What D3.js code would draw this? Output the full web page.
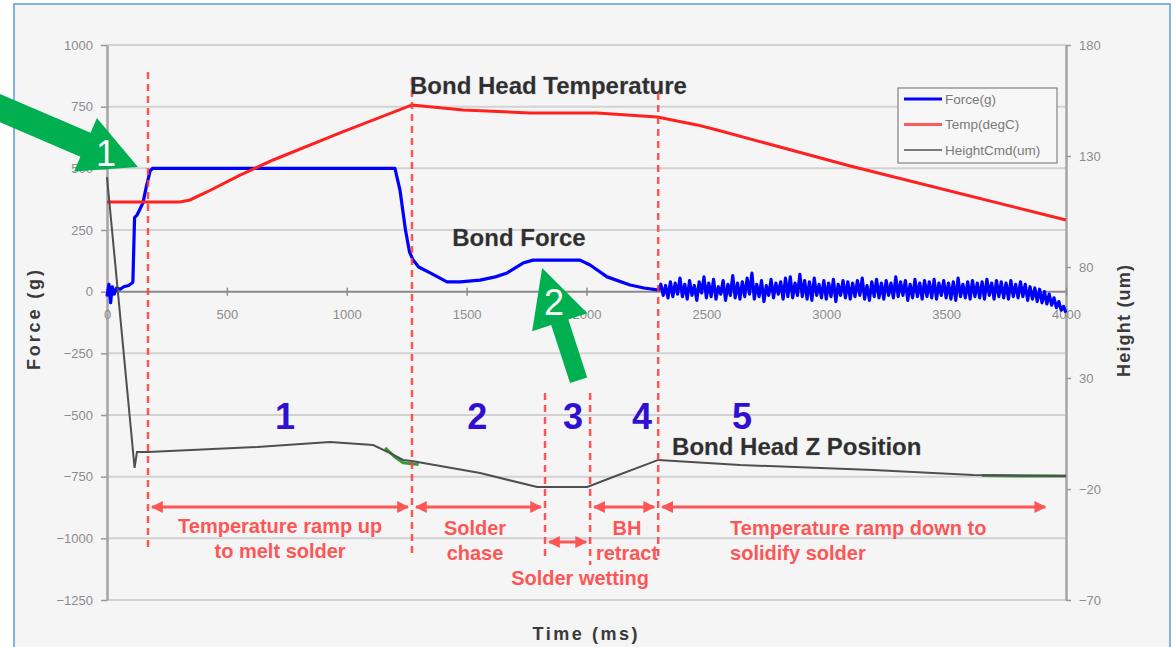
<!DOCTYPE html>
<html>
<head>
<meta charset="utf-8">
<script src="https://cdn.jsdelivr.net/npm/d3@7"></script>
<style>
  html, body { margin: 0; padding: 0; background: #fff; }
  svg { display: block; font-family: "Liberation Sans", Arial, sans-serif; }
</style>
</head>
<body>
<svg id="chart" width="1176" height="647"></svg>
<script>
// ---- data ----
const timeTicks = [0, 500, 1000, 1500, 2000, 2500, 3000, 3500, 4000];
const forceTicks = [-1250, -1000, -750, -500, -250, 0, 250, 500, 750, 1000];
const heightTicks = [-70, -20, 30, 80, 130, 180];

// bond force, smooth part (ms, g)
const forceMs = [0, 8, 15, 22, 30, 40, 55, 70, 90, 105, 108, 115, 125, 135, 150, 165, 180, 190,
  1201, 1222, 1245, 1262, 1277, 1300, 1348, 1418, 1473, 1556, 1620, 1669, 1735, 1777, 1850,
  1973, 2015, 2086, 2182, 2240, 2295];
const forceG = [-20, 30, -45, 20, -10, 15, 10, 20, 25, 35, 40, 300, 310, 330, 360, 430, 490, 500,
  500, 412, 250, 160, 128, 100, 76, 40, 40, 47, 60, 76, 116, 128, 128,
  128, 108, 60, 27, 15, 7];
// bond force, noisy tail sampled every 10 ms from 2300 ms
const forceTailStartMs = 2300;
const forceTailStepMs = 10;
const forceTailG = [
  5, 30, -15, 25, -25, 40, -20, 35, -10, 55,
  -20, 30, -30, 45, -15, 25, -35, 40, -5, 60,
  -25, 35, -20, 50, -30, 20, -10, 45, -35, 30,
  -15, 65, -25, 35, -30, 40, -20, 55, -10, 75,
  -30, 30, -20, 45, -40, 25, -15, 50, -25, 35,
  -10, 40, -30, 55, -20, 60, -25, 35, -15, 70,
  -20, 45, -30, 40, -35, 55, -15, 30, -25, 45,
  -30, 35, -20, 50, -40, 30, -15, 45, -25, 40,
  -30, 35, -20, 45, -15, 55, -30, 25, -35, 40,
  -20, 50, -25, 35, -30, 45, -15, 35, -25, 60,
  -20, 40, -15, 45, -35, 30, -25, 50, -20, 35,
  -30, 45, -20, 40, -25, 50, -30, 35, -15, 45,
  -25, 35, -30, 40, -35, 55, -20, 30, -25, 40,
  -30, 45, -20, 35, -25, 40, -30, 50, -15, 35,
  -30, 45, -20, 40, -25, 35, -30, 45, -20, 30,
  -25, 40, -20, 30, -35, 20, -30, 15, -40, 10,
  -45, 0, -50, -10, -55, -25, -65, -40, -75, -60,
  -85];

// bond head temperature (ms, degC)
const tempMs = [0, 305, 346, 417, 555, 693, 972, 1272, 1485, 1765, 2044, 2295, 2461, 2545, 3100, 4000];
const tempC = [109.3, 109.3, 110.2, 113.8, 121.4, 128.2, 140.4, 153, 150.7, 149.4, 149.4, 147.6, 144, 141.7, 125.5, 101.2];

// bond head z position (ms, um)
const heightMs = [0, 104, 115, 125, 171, 626, 930, 1110, 1181, 1235, 1272, 1556, 1794, 2003, 2111, 2278, 2299, 2641, 3196, 3613, 4000];
const heightUm = [120.5, 2.1, -10.5, -3.3, -3.3, -1.1, 1.2, -0.2, -3.8, -6.9, -7.4, -12.8, -19.1, -19.1, -14.6, -7.8, -6.9, -9.2, -11.4, -13.7, -14.1];
// short green trace showing under the z position
const heightRefMs = [[1160, 1200, 1235, 1272, 1300], [3650, 3800, 4000]];
const heightRefUm = [[-1.5, -5.5, -8.2, -8.6, -9.0], [-13.9, -14.1, -14.1]];

// process phases
const phaseMs = [171, 1272, 1827, 2015, 2299];
const phaseNumbers = ["1", "2", "3", "4", "5"];
const phaseNumberMs = [743, 1544, 1944, 2232, 2649];

const legendNames = ["Force(g)", "Temp(degC)", "HeightCmd(um)"];

// ---- layout ----
const svg = d3.select("#chart");
const x = d3.scaleLinear().domain([0, 4000]).range([107, 1066]);
const yF = d3.scaleLinear().domain([-1250, 1000]).range([600, 45]);
const yR = d3.scaleLinear().domain([-70, 180]).range([600, 45]);

const RED = "#ff3b3b";
const BLUE_NUM = "#2f10d2";
const fmt = d3.format("d");

// frame
svg.append("rect")
  .attr("x", 14).attr("y", 4).attr("width", 1156).attr("height", 670)
  .attr("fill", "#f5f5f5").attr("stroke", "#5b9bd5").attr("stroke-width", 1.5);

// gridlines
svg.append("g").selectAll("line").data(forceTicks).join("line")
  .attr("x1", x(0)).attr("x2", x(4000))
  .attr("y1", (d) => yF(d)).attr("y2", (d) => yF(d))
  .attr("stroke", (d) => (d === 0 ? "#8a8a8a" : "#d2d2d2"))
  .attr("stroke-width", 2);

function styleAxis(g) {
  g.select(".domain").attr("stroke", "#a5a5a5").attr("stroke-width", 2.5);
  g.selectAll(".tick line").attr("stroke", "#9a9a9a").attr("stroke-width", 1.5);
  g.selectAll("text").attr("fill", "#8c8c8c").style("font-size", "13px")
    .style("font-family", "'Liberation Sans', Arial, sans-serif");
}

// left axis
const gL = svg.append("g").attr("transform", `translate(${x(0)},0)`)
  .call(d3.axisLeft(yF).tickValues(forceTicks).tickFormat(fmt).tickSize(6).tickSizeOuter(0).tickPadding(8));
styleAxis(gL);

// right axis
const gR = svg.append("g").attr("transform", `translate(${x(4000)},0)`)
  .call(d3.axisRight(yR).tickValues(heightTicks).tickFormat(fmt).tickSize(5).tickSizeOuter(0).tickPadding(8));
styleAxis(gR);

// x axis on the zero line
const gX = svg.append("g").attr("transform", `translate(0,${yF(0)})`)
  .call(d3.axisBottom(x).tickValues(timeTicks).tickFormat(fmt).tickSize(4).tickSizeOuter(0).tickPadding(14));
styleAxis(gX);
gX.select(".domain").remove();
gX.selectAll(".tick line").attr("stroke", "#8a8a8a").attr("y1", -4);

// axis titles
svg.append("text")
  .attr("transform", "translate(40,320) rotate(-90)")
  .attr("text-anchor", "middle").attr("fill", "#3a3a3a")
  .attr("font-weight", "bold").attr("font-size", 18)
  .attr("textLength", 100).attr("lengthAdjust", "spacing")
  .text("Force (g)");
svg.append("text")
  .attr("transform", "translate(1130,321) rotate(-90)")
  .attr("text-anchor", "middle").attr("fill", "#3a3a3a")
  .attr("font-weight", "bold").attr("font-size", 18)
  .attr("textLength", 112).attr("lengthAdjust", "spacing")
  .text("Height (um)");
svg.append("text")
  .attr("x", 585).attr("y", 640)
  .attr("text-anchor", "middle").attr("fill", "#3a3a3a")
  .attr("font-weight", "bold").attr("font-size", 18)
  .attr("textLength", 105).attr("lengthAdjust", "spacing")
  .text("Time (ms)");

// ---- series ----
const forcePts = d3.zip(forceMs, forceG)
  .concat(forceTailG.map((v, i) => [forceTailStartMs + i * forceTailStepMs, v]));
const tempPts = d3.zip(tempMs, tempC);
const heightPts = d3.zip(heightMs, heightUm);

const lineF = d3.line().x((d) => x(d[0])).y((d) => yF(d[1]));
const lineR = d3.line().x((d) => x(d[0])).y((d) => yR(d[1]));

svg.append("path").datum(forcePts)
  .attr("fill", "none").attr("stroke", "#0000ff").attr("stroke-width", 3.2)
  .attr("stroke-linejoin", "round").attr("d", lineF);

svg.append("path").datum(tempPts)
  .attr("fill", "none").attr("stroke", "#ff2020").attr("stroke-width", 3)
  .attr("d", lineR);

heightRefMs.forEach((ms, i) => {
  svg.append("path").datum(d3.zip(ms, heightRefUm[i]))
    .attr("fill", "none").attr("stroke", "#3a9a3a").attr("stroke-width", 3)
    .attr("d", lineR);
});

svg.append("path").datum(heightPts)
  .attr("fill", "none").attr("stroke", "#4f4f4f").attr("stroke-width", 2)
  .attr("d", lineR);

// ---- phase annotations ----
const phaseSpans = [[72, 550], [78, 555], [393, 560], [393, 565], [93, 560]];
svg.append("g").selectAll("line").data(phaseMs).join("line")
  .attr("x1", (d) => x(d)).attr("x2", (d) => x(d))
  .attr("y1", (d, i) => phaseSpans[i][0]).attr("y2", (d, i) => phaseSpans[i][1])
  .attr("stroke", RED).attr("stroke-width", 2.5).attr("stroke-dasharray", "7,5")
  .attr("opacity", 0.85);

const defs = svg.append("defs");
defs.append("marker")
  .attr("id", "arr").attr("viewBox", "0 0 10 10")
  .attr("refX", 9).attr("refY", 5)
  .attr("markerWidth", 4).attr("markerHeight", 4)
  .attr("orient", "auto-start-reverse")
  .append("path").attr("d", "M0,0 L10,5 L0,10 z").attr("fill", RED);

const rangeArrows = [
  [phaseMs[0], phaseMs[1], 507],
  [phaseMs[1], phaseMs[2], 507],
  [phaseMs[3], phaseMs[4], 507],
  [phaseMs[4], 3930, 507],
  [phaseMs[2], phaseMs[3], 542]
];
svg.append("g").selectAll("line").data(rangeArrows).join("line")
  .attr("x1", (d) => x(d[0]) + 4).attr("x2", (d) => x(d[1]) - 4)
  .attr("y1", (d) => d[2]).attr("y2", (d) => d[2])
  .attr("stroke", RED).attr("stroke-width", 3).attr("opacity", 0.85)
  .attr("marker-start", "url(#arr)").attr("marker-end", "url(#arr)");

const redNotes = [
  { ms: 722, lines: ["Temperature ramp up", "to melt solder"], anchor: "middle", y: 533 },
  { ms: 1535, lines: ["Solder", "chase"], anchor: "middle", y: 535 },
  { ms: 2169, lines: ["BH", "retract"], anchor: "middle", y: 535 },
  { ms: 1973, lines: ["Solder wetting"], anchor: "middle", y: 585 },
  { ms: 2599, lines: ["Temperature ramp down to", "solidify solder"], anchor: "start", y: 535 }
];
redNotes.forEach((n) => {
  const t = svg.append("text")
    .attr("x", x(n.ms)).attr("y", n.y)
    .attr("text-anchor", n.anchor).attr("fill", RED).attr("opacity", 0.85)
    .attr("font-weight", "bold").attr("font-size", 20);
  n.lines.forEach((s, i) => {
    t.append("tspan").attr("x", x(n.ms)).attr("dy", i === 0 ? 0 : 25).text(s);
  });
});

svg.append("g").selectAll("text").data(phaseNumbers).join("text")
  .attr("x", (d, i) => x(phaseNumberMs[i])).attr("y", 429)
  .attr("text-anchor", "middle").attr("fill", BLUE_NUM)
  .attr("font-weight", "bold").attr("font-size", 36)
  .text((d) => d);

// series titles
const titles = [
  { text: "Bond Head Temperature", ms: 1264, y: 94 },
  { text: "Bond Force", ms: 1440, y: 246 },
  { text: "Bond Head Z Position", ms: 2357, y: 455 }
];
svg.append("g").selectAll("text").data(titles).join("text")
  .attr("x", (d) => x(d.ms)).attr("y", (d) => d.y)
  .attr("fill", "#2e2e2e").attr("font-weight", "bold").attr("font-size", 24)
  .attr("stroke", "#6a6a6a").attr("stroke-width", 0.4).attr("stroke-opacity", 0.6)
  .text((d) => d.text);

// ---- legend ----
const legendColors = ["#0000ff", "#ff5a5a", "#4f4f4f"];
const legendWidths = [3, 3, 1.6];
const lg = svg.append("g").attr("transform", "translate(898,88)");
lg.append("rect").attr("width", 159).attr("height", 75)
  .attr("fill", "#f7f7f7").attr("stroke", "#8a8a8a").attr("stroke-width", 1.3);
legendNames.forEach((name, i) => {
  const yy = 11 + i * 25.5;
  lg.append("line").attr("x1", 6).attr("x2", 44).attr("y1", yy).attr("y2", yy)
    .attr("stroke", legendColors[i]).attr("stroke-width", legendWidths[i]);
  lg.append("text").attr("x", 47).attr("y", yy + 4.5)
    .attr("fill", "#7a7a7a").attr("font-size", 13.5).text(name);
});

// ---- green call-out arrows ----
function bigArrow(tip, dir, headLen, headW, shaftW, len) {
  const [tx, ty] = tip;
  const [ux, uy] = dir;
  const px = -uy, py = ux;
  const bx = tx - ux * headLen, by = ty - uy * headLen;
  const sx = tx - ux * len, sy = ty - uy * len;
  return [
    [tx, ty],
    [bx + px * headW / 2, by + py * headW / 2],
    [bx + px * shaftW / 2, by + py * shaftW / 2],
    [sx + px * shaftW / 2, sy + py * shaftW / 2],
    [sx - px * shaftW / 2, sy - py * shaftW / 2],
    [bx - px * shaftW / 2, by - py * shaftW / 2],
    [bx - px * headW / 2, by - py * headW / 2]
  ];
}
const callouts = [
  { label: "1", tip: [x(129), yF(505)], dir: [0.92, 0.393], len: 175, shaft: 26, lx: 106, ly: 166 },
  { label: "2", tip: [x(1815), yF(96)], dir: [-0.309, -0.952], len: 118, shaft: 18, lx: 554, ly: 315 }
];
callouts.forEach((c) => {
  svg.append("polygon")
    .attr("points", bigArrow(c.tip, c.dir, 57, 58, c.shaft, c.len).map((p) => p.join(",")).join(" "))
    .attr("fill", "#00b050");
  svg.append("text").attr("x", c.lx).attr("y", c.ly)
    .attr("text-anchor", "middle").attr("fill", "#ffffff").attr("font-size", 36)
    .text(c.label);
});
</script>
</body>
</html>
